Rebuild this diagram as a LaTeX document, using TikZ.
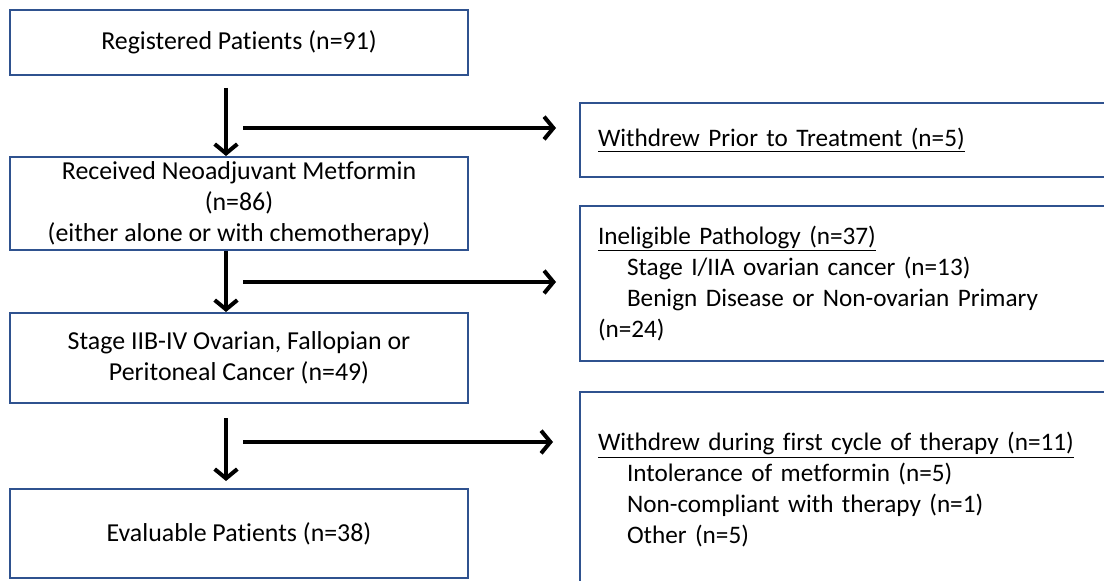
\documentclass[tikz,border=0pt]{standalone}
\usepackage{fontspec}
\setmainfont{Carlito}[Ligatures=NoCommon]
\usepackage{tikz}
\usepackage{xcolor}
\usetikzlibrary{positioning,arrows.meta}
\definecolor{boxblue}{HTML}{2F528F}

\begin{document}
\begin{tikzpicture}[
          x=0.75pt, y=-0.75pt,
          lbl/.style={font=\fontsize{19.4pt}{23.25pt}\selectfont},
          sidelbl/.style={font=\fontsize{18.9pt}{23.25pt}\selectfont},
          stagebox/.style={lbl, draw=boxblue, line width=1.5pt, align=center, minimum width=343.5pt, inner sep=0pt},
          sidebox/.style={sidelbl, draw=boxblue, line width=1.5pt, align=left, anchor=west, text width=390pt, inner xsep=13.5pt, inner ysep=0pt},
          flow/.style={line width=3pt, -{Straight Barb[length=7pt, width=17pt]}}
      ]
        \useasboundingbox (0,0) rectangle (1104,581);
        \clip (0,0) rectangle (1104,581);
        \node[stagebox, minimum height=48.75pt] (registered) at (239,42.5) {Registered Patients (n=91)};
        \node[stagebox, minimum height=69.75pt] (metformin) at (239,203.5) {Received Neoadjuvant Metformin\\(n=86)\\(either alone or with chemotherapy)};
        \node[stagebox, minimum height=67.5pt] (stage) at (239,358) {Stage IIB-IV Ovarian, Fallopian or\\Peritoneal Cancer (n=49)};
        \node[stagebox, minimum height=66.75pt] (evaluable) at (239,533.5) {Evaluable Patients (n=38)};
        \node[sidebox, minimum height=55.5pt] (prior) at (579,140) {\underline{Withdrew Prior to Treatment (n=5)}};
        \node[sidebox, minimum height=116.25pt] (ineligible) at (579,283.5) {\underline{Ineligible Pathology (n=37)}\\\hspace*{21.75pt}Stage I/IIA ovarian cancer (n=13)\\\hspace*{21.75pt}Benign Disease or Non-ovarian Primary\\(n=24)};
        \node[sidebox, minimum height=147pt] (firstcycle) at (579,490) {\underline{Withdrew during first cycle of therapy (n=11)}\\\hspace*{21.75pt}Intolerance of metformin (n=5)\\\hspace*{21.75pt}Non-compliant with therapy (n=1)\\\hspace*{21.75pt}Other (n=5)};
        \coordinate (v1) at (226,88);
        \coordinate (v3) at (226,418);
        \coordinate (h1) at (243,128);
        \coordinate (h2) at (243,282);
        \coordinate (h3) at (243,442);
        \draw[flow] (v1) -- (v1 |- metformin.north);
        \draw[flow] (v1 |- metformin.south) -- (v1 |- stage.north);
        \draw[flow] (v3) -- ([yshift=5.25pt]v3 |- evaluable.north);
        \draw[flow, shorten >=17.25pt] (h1) -- (h1 -| prior.west);
        \draw[flow, shorten >=17.25pt] (h2) -- (h2 -| ineligible.west);
        \draw[flow, shorten >=19.5pt] (h3) -- (h3 -| firstcycle.west);
      \end{tikzpicture}
\end{document}
